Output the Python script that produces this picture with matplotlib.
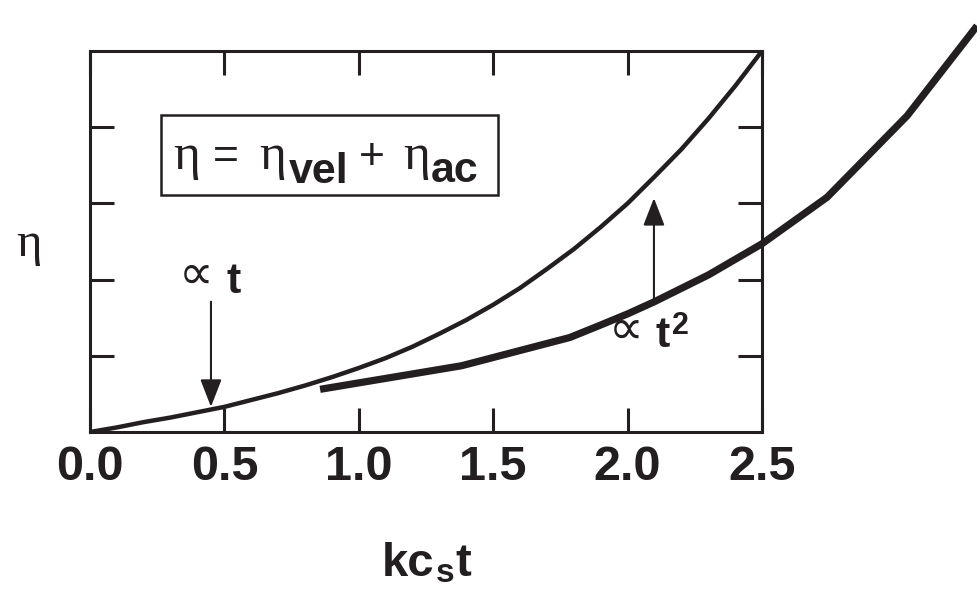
import matplotlib
matplotlib.use("Agg")
import matplotlib.pyplot as plt
from matplotlib.patches import Rectangle

# total growth eta = eta_vel + eta_ac versus kc_s t
t_total = [0.0, 0.1, 0.2, 0.3, 0.4, 0.5, 0.6, 0.7, 0.8, 0.9, 1.0, 1.1, 1.2,
           1.3, 1.4, 1.5, 1.6, 1.7, 1.8, 1.9, 2.0, 2.1, 2.2, 2.3, 2.4, 2.5]
eta_total = [0.00, 0.06, 0.13, 0.19, 0.26, 0.33, 0.42, 0.51, 0.61, 0.72, 0.84,
             0.97, 1.12, 1.29, 1.47, 1.67, 1.89, 2.14, 2.40, 2.69, 3.00, 3.35,
             3.71, 4.11, 4.54, 5.00]

# the t^2 branch (runs past the frame on the right)
t_quad = [0.856, 1.383, 1.785, 1.897, 2.0, 2.10, 2.3, 2.5, 2.742, 3.04, 3.30]
eta_quad = [0.56, 0.87, 1.24, 1.40, 1.55, 1.71, 2.06, 2.47, 3.08, 4.15, 5.33]

x_ticks = [0.0, 0.5, 1.0, 1.5, 2.0, 2.5]
x_tick_labels = ["0.0", "0.5", "1.0", "1.5", "2.0", "2.5"]
y_ticks = [1, 2, 3, 4]

INK = "#231f20"
W, H = 978, 589
SANS = ["Liberation Sans", "DejaVu Sans"]
SERIF = ["Liberation Serif", "DejaVu Serif"]
SYM = ["DejaVu Sans"]

fig = plt.figure(figsize=(W / 100, H / 100), dpi=100)
ax = fig.add_axes([90 / W, 1 - 432 / H, 672 / W, 381 / H])
ax.set_xlim(0, 2.5)
ax.set_ylim(0, 5)

for s in ax.spines.values():
    s.set_linewidth(2.2)
    s.set_color(INK)

ax.set_xticks(x_ticks)
ax.set_xticklabels(x_tick_labels, fontsize=35, fontweight="bold", family=SANS, color=INK)
ax.set_yticks(y_ticks)
ax.set_yticklabels([])
ax.tick_params(direction="in", length=17, width=2.2, color=INK,
               top=True, right=True, pad=9)

ax.plot(t_total, eta_total, color=INK, lw=3.2, solid_capstyle="butt", zorder=3)
ax.plot(t_quad, eta_quad, color=INK, lw=5.2, solid_capstyle="butt",
        solid_joinstyle="miter", clip_on=False, zorder=4)


def arrow(x, y0, y1):
    ax.annotate("", xy=(x, y1), xytext=(x, y0),
                arrowprops=dict(arrowstyle="-|>,head_length=0.85,head_width=0.33",
                                mutation_scale=20, lw=1.5, color=INK,
                                shrinkA=0, shrinkB=0))


arrow(0.45, 1.71, 0.33)
arrow(2.098, 1.71, 3.07)


def put(x, y, s, size, family, weight="normal"):
    fig.text(x / W, 1 - y / H, s, fontsize=size, family=family,
             fontweight=weight, ha="left", va="baseline", color=INK)


# boxed relation
ax.add_patch(Rectangle((0.1057, 0.622), 0.5015, 0.210, transform=ax.transAxes,
                       fill=False, lw=1.8, edgecolor=INK, zorder=5))
put(173, 169, "η", 37, SERIF)
put(213, 169, "=", 32, SANS)
put(259, 169, "η", 37, SERIF)
put(289, 183, "vel", 31, SANS, "bold")
put(359, 169, "+", 32, SANS)
put(403, 169, "η", 37, SERIF)
put(431, 182, "ac", 31, SANS, "bold")

# annotations
put(179, 289, "∝", 35, SYM)
put(227, 293, "t", 31, SANS, "bold")
put(609, 344, "∝", 35, SYM)
put(656, 347, "t", 31, SANS, "bold")
put(672, 334, "2", 22, SANS, "bold")

# axis labels
put(16, 256, "η", 35, SERIF)
put(382, 576, "kc", 34, SANS, "bold")
put(436, 582, "s", 24, SANS, "bold")
put(455, 576, "t", 34, SANS, "bold")

fig.savefig("out.png", dpi=100)
